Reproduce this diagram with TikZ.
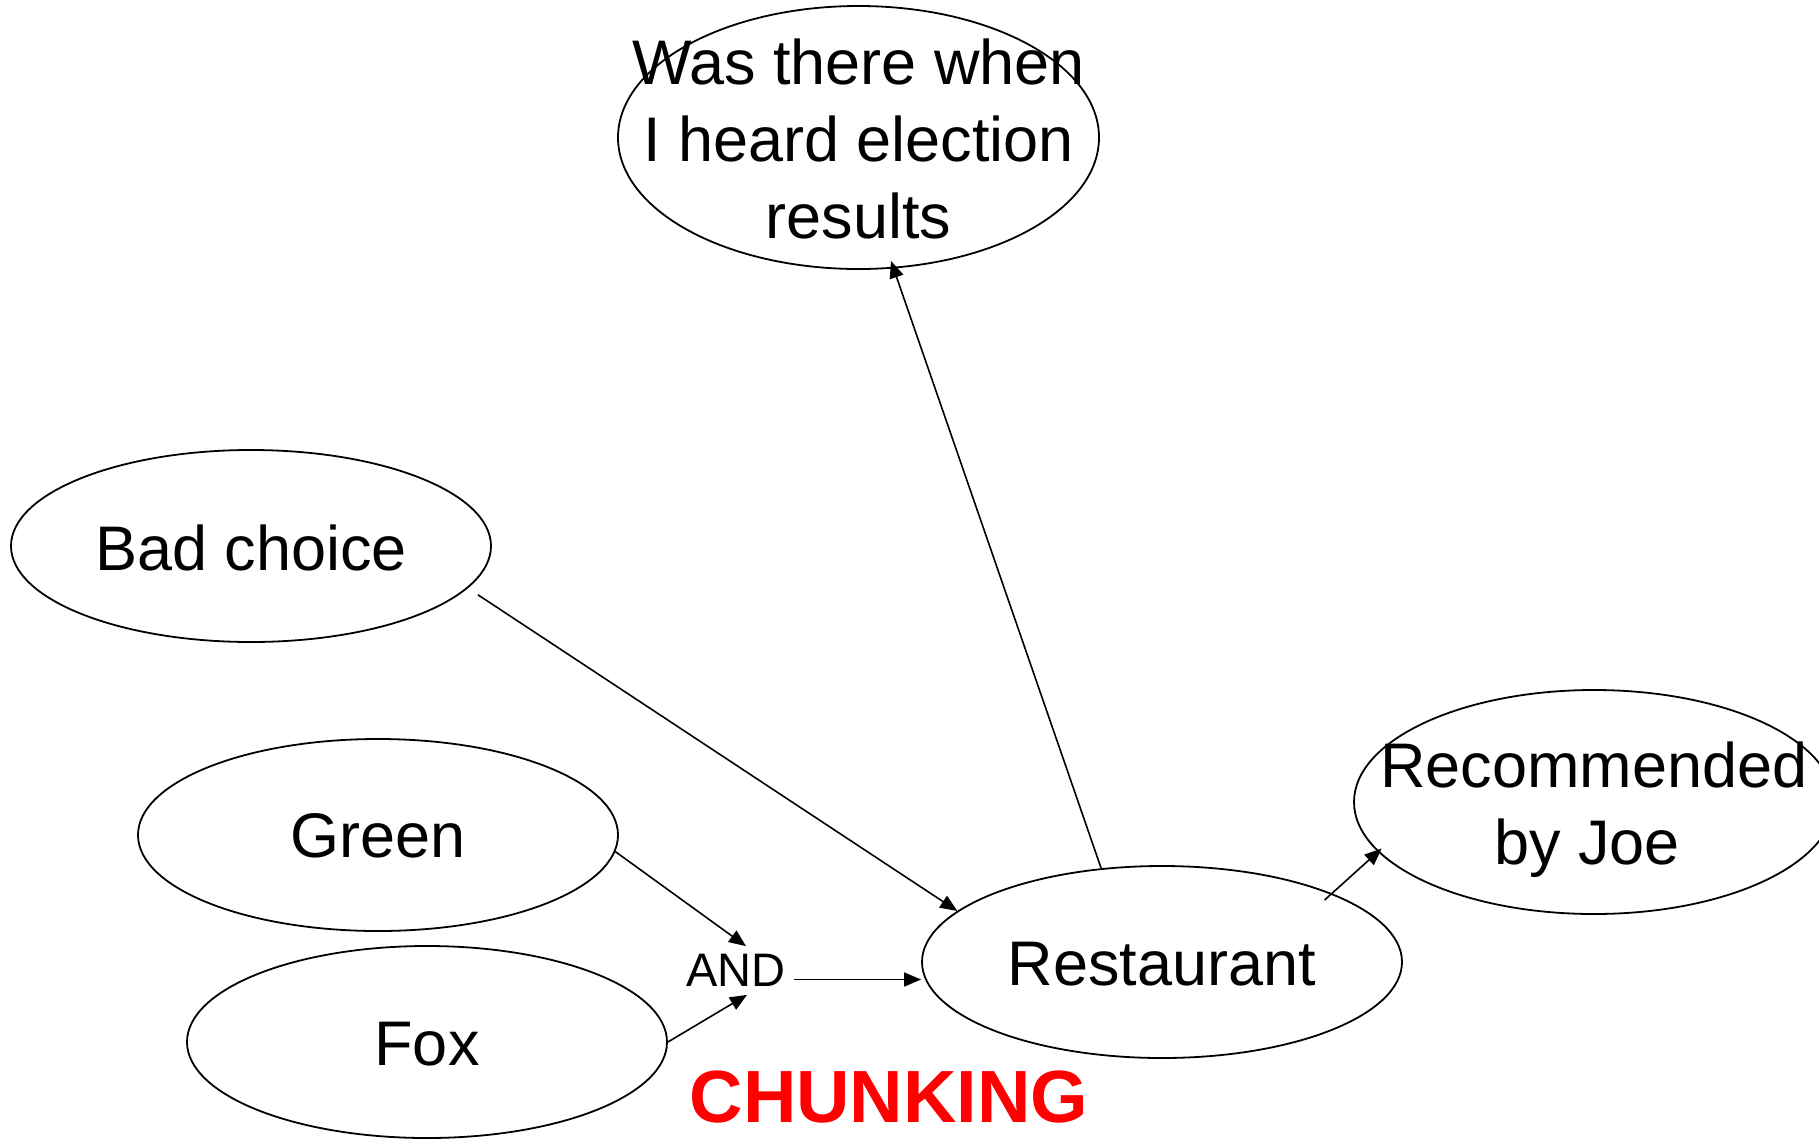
\documentclass[tikz,border=0pt]{standalone}
\usepackage{fontspec}
\setmainfont{Liberation Sans}
\usetikzlibrary{shapes.geometric,arrows.meta}
\begin{document}
\begin{tikzpicture}[x=1pt,y=1pt,
  elps/.style={ellipse,draw,line width=1.8pt,inner sep=0pt},
  lbl/.style={font=\fontsize{63}{77}\selectfont,align=center,inner sep=0pt},
  arr/.style={line width=1.6pt,-{Triangle[length=17pt,width=14pt]}}]
\useasboundingbox (0,0) rectangle (1819,-1138);
\clip (0,0) rectangle (1819,-1138);
% ellipses
\node[elps,minimum width=481pt,minimum height=263pt] (was) at (858.5,-137.5) {};
\node[lbl] (wastxt) at (858.5,-139) {Was there when\\I heard election\\results};
\node[elps,minimum width=480pt,minimum height=192pt] (bad) at (251,-546) {};
\node[lbl] (badtxt) at (251,-548) {Bad choice};
\node[elps,minimum width=480pt,minimum height=192pt] (green) at (378,-835) {};
\node[lbl] (greentxt) at (378,-836) {Green};
\node[elps,minimum width=480pt,minimum height=192pt] (fox) at (427,-1042) {};
\node[lbl] (foxtxt) at (427,-1044) {Fox};
\node[elps,minimum width=480pt,minimum height=192pt] (rest) at (1162,-962) {};
\node[lbl] (resttxt) at (1162,-964) {Restaurant};
\node[elps,minimum width=480pt,minimum height=224pt] (rec) at (1594,-802) {};
\node[lbl] (rectxt) at (1594,-809.5) {Recommended\\by Joe\hspace*{14pt}};
% AND and CHUNKING
\node[font=\fontsize{47}{56}\selectfont,inner sep=8pt] (and) at (736,-970.5) {AND};
\node[font=\fontsize{74}{88}\selectfont\bfseries,text=red,anchor=base,inner sep=0pt] (chunk) at (889,-1122) {CHUNKING};
% connectors
\coordinate (andout) at ([yshift=-9pt]and.east);
\draw[arr] (green.-4) -- ([xshift=10pt]and.north);
\draw[arr] (fox.east) -- ([xshift=11pt]and.south);
\draw[arr] (andout) -- (andout -| rest.west);
\draw[arr,shorten <=12pt] (bad.-11) -- (rest.166.7);
\draw[arr,shorten >=-8pt] (rest.123) -- (was.-75.1);
\draw[arr,shorten <=-10pt,shorten >=-5pt] (rest.22) -- (rec.193.8);
\end{tikzpicture}
\end{document}
